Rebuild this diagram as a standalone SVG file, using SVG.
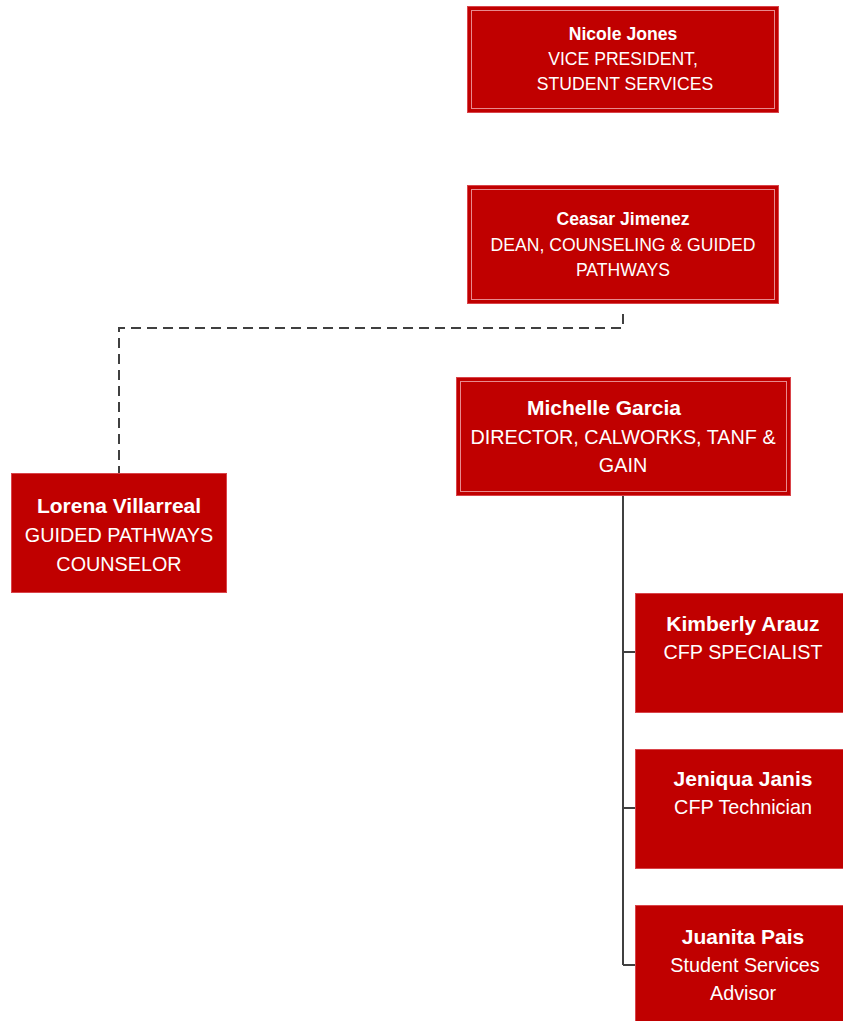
<svg xmlns="http://www.w3.org/2000/svg" width="843" height="1021" viewBox="0 0 843 1021">
<style>
.box{fill:#C00000;stroke:#D9444A;stroke-width:1}
.inner{fill:none;stroke:#E88A8E;stroke-width:1}
text{font-family:"Liberation Sans",Arial,sans-serif;fill:#fff;text-anchor:middle}
.s{font-size:17.6px}
.l{font-size:19.8px}
.l.b{font-size:21px}
.b{font-weight:bold}
.conn{fill:none;stroke:#404040;stroke-width:2}
</style>
<rect width="843" height="1021" fill="#fff"/>
<g id="connectors">
<path class="conn" d="M623,314 V328 H119 V473" stroke-dasharray="10,6"/>
<path class="conn" d="M623,495 V965 M623,652 H635 M623,808 H635 M623,965 H635"/>
</g>
<g id="n1">
<rect class="box" x="467.5" y="6.5" width="311" height="106"/>
<rect class="inner" x="471.5" y="10.5" width="303" height="98"/>
<text class="s b" x="623" y="40">Nicole Jones</text>
<text class="s" x="623" y="65">VICE PRESIDENT,</text>
<text class="s" x="625" y="90">STUDENT SERVICES</text>
</g>
<g id="n2">
<rect class="box" x="467.5" y="185.5" width="311" height="118"/>
<rect class="inner" x="471.5" y="189.5" width="303" height="110"/>
<text class="s b" x="623" y="225">Ceasar Jimenez</text>
<text class="s" x="623" y="251">DEAN, COUNSELING &amp; GUIDED</text>
<text class="s" x="623" y="276">PATHWAYS</text>
</g>
<g id="n3">
<rect class="box" x="456.5" y="377.5" width="334" height="118"/>
<rect class="inner" x="460.5" y="381.5" width="326" height="110"/>
<text class="l b" x="604" y="415">Michelle Garcia</text>
<text class="l" x="623" y="444">DIRECTOR, CALWORKS, TANF &amp;</text>
<text class="l" x="623" y="472">GAIN</text>
</g>
<g id="n4">
<rect class="box" x="11.5" y="473.5" width="215" height="119"/>
<text class="l b" x="119" y="513">Lorena Villarreal</text>
<text class="l" x="119" y="542">GUIDED PATHWAYS</text>
<text class="l" x="119" y="571">COUNSELOR</text>
</g>
<g id="n5">
<rect class="box" x="635.5" y="593.5" width="212" height="119"/>
<text class="l b" x="743" y="631">Kimberly Arauz</text>
<text class="l" x="743" y="659">CFP SPECIALIST</text>
</g>
<g id="n6">
<rect class="box" x="635.5" y="749.5" width="212" height="119"/>
<text class="l b" x="743" y="786">Jeniqua Janis</text>
<text class="l" x="743" y="814">CFP Technician</text>
</g>
<g id="n7">
<rect class="box" x="635.5" y="905.5" width="212" height="119"/>
<text class="l b" x="743" y="944">Juanita Pais</text>
<text class="l" x="745" y="972">Student Services</text>
<text class="l" x="743" y="1000">Advisor</text>
</g>
</svg>
